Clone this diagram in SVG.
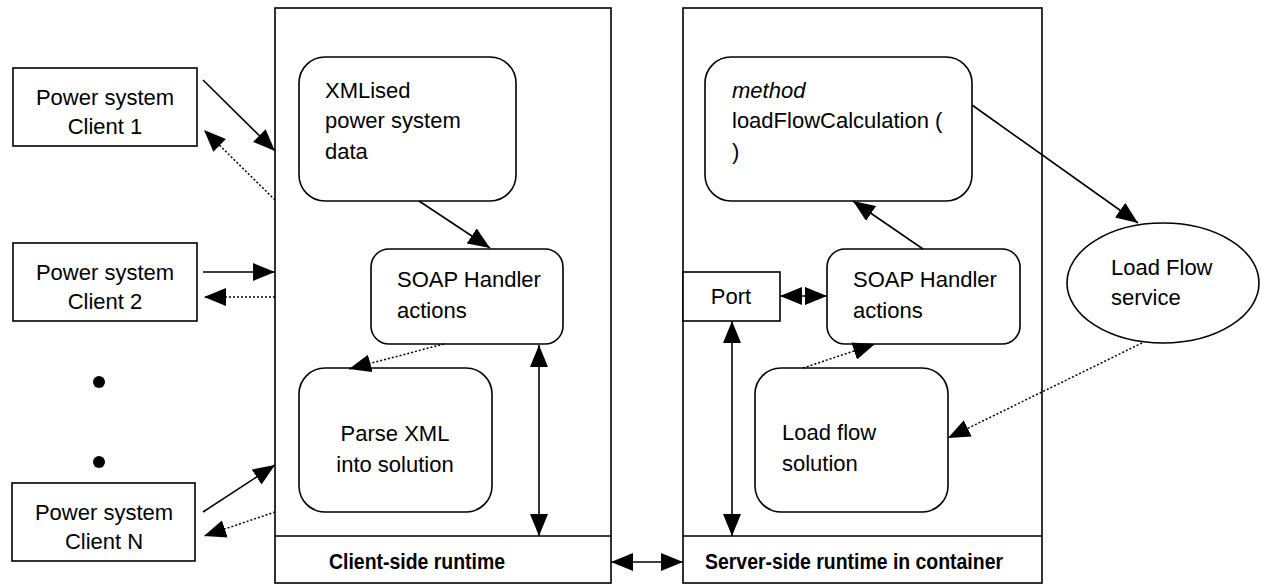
<svg xmlns="http://www.w3.org/2000/svg" width="1261" height="584" viewBox="0 0 1261 584">
  <style>
    .box { fill: #fff; stroke: #000; stroke-width: 1.6; }
    .t { font-family: "Liberation Sans", Arial, sans-serif; font-size: 22px; fill: #000; }
    .c { text-anchor: middle; }
    .b { font-weight: bold; font-size: 22px; }
    .i { font-style: italic; }
    .solid { fill: none; stroke: #000; stroke-width: 1.6; }
    .dot { fill: none; stroke: #000; stroke-width: 1.5; stroke-dasharray: 2 2; }
  </style>
  <defs>
    <marker id="head" viewBox="0 0 22 18" markerUnits="userSpaceOnUse" markerWidth="22" markerHeight="18" refX="22" refY="9" orient="auto-start-reverse">
      <path d="M0,0 L22,9 L0,18 z" fill="#000"/>
    </marker>
  </defs>

  <rect width="1261" height="584" fill="#fff"/>

  <!-- client-side container -->
  <g id="client-runtime">
    <rect class="box" x="275" y="8" width="336" height="575"/>
    <line class="solid" x1="275" y1="536" x2="611" y2="536"/>
    <text class="t b" x="329" y="569" textLength="176" lengthAdjust="spacingAndGlyphs">Client-side runtime</text>
  </g>

  <!-- server-side container -->
  <g id="server-runtime">
    <rect class="box" x="683" y="8" width="359" height="575"/>
    <line class="solid" x1="683" y1="536" x2="1042" y2="536"/>
    <text class="t b" x="705" y="569" textLength="298" lengthAdjust="spacingAndGlyphs">Server-side runtime in container</text>
  </g>

  <!-- clients -->
  <g id="client1">
    <rect class="box" x="13" y="68" width="184" height="78"/>
    <text class="t c" x="105" y="105">Power system</text>
    <text class="t c" x="105" y="134">Client 1</text>
  </g>
  <g id="client2">
    <rect class="box" x="13" y="243" width="184" height="78"/>
    <text class="t c" x="105" y="280">Power system</text>
    <text class="t c" x="105" y="309">Client 2</text>
  </g>
  <g id="ellipsis">
    <circle cx="99" cy="382" r="6" fill="#000"/>
    <circle cx="99" cy="462" r="6" fill="#000"/>
  </g>
  <g id="clientN">
    <rect class="box" x="12" y="483" width="183" height="78"/>
    <text class="t c" x="104" y="520">Power system</text>
    <text class="t c" x="104" y="549">Client N</text>
  </g>

  <!-- client-side nodes -->
  <g id="xml-data">
    <rect class="box" x="299" y="57" width="217" height="144" rx="26"/>
    <text class="t" x="325" y="98">XMLised</text>
    <text class="t" x="325" y="128">power system</text>
    <text class="t" x="325" y="159">data</text>
  </g>
  <g id="soap-client">
    <rect class="box" x="371" y="249" width="192" height="95" rx="18"/>
    <text class="t" x="397" y="287">SOAP Handler</text>
    <text class="t" x="397" y="318">actions</text>
  </g>
  <g id="parse-xml">
    <rect class="box" x="299" y="368" width="193" height="144" rx="26"/>
    <text class="t c" x="395" y="441">Parse XML</text>
    <text class="t c" x="395" y="472">into solution</text>
  </g>

  <!-- server-side nodes -->
  <g id="method">
    <rect class="box" x="705" y="57" width="267" height="144" rx="26"/>
    <text class="t i" x="732" y="98">method</text>
    <text class="t" x="732" y="128">loadFlowCalculation (</text>
    <text class="t" x="732" y="159">)</text>
  </g>
  <g id="port">
    <rect class="box" x="683" y="272" width="97" height="49"/>
    <text class="t c" x="731" y="304">Port</text>
  </g>
  <g id="soap-server">
    <rect class="box" x="827" y="249" width="193" height="95" rx="18"/>
    <text class="t" x="853" y="287">SOAP Handler</text>
    <text class="t" x="853" y="318">actions</text>
  </g>
  <g id="lf-solution">
    <rect class="box" x="755" y="368" width="193" height="144" rx="26"/>
    <text class="t" x="782" y="440">Load flow</text>
    <text class="t" x="782" y="471">solution</text>
  </g>
  <g id="lf-service">
    <ellipse class="box" cx="1163" cy="283" rx="96" ry="60"/>
    <text class="t" x="1111" y="275">Load Flow</text>
    <text class="t" x="1111" y="305">service</text>
  </g>

  <!-- connectors -->
  <g id="connectors">
    <line class="solid" x1="203" y1="80" x2="275" y2="151" marker-end="url(#head)"/>
    <line class="dot" x1="275" y1="200" x2="204" y2="130" marker-end="url(#head)"/>
    <line class="solid" x1="203" y1="272" x2="275" y2="272" marker-end="url(#head)"/>
    <line class="dot" x1="275" y1="297" x2="204" y2="297" marker-end="url(#head)"/>
    <line class="solid" x1="203" y1="512" x2="275" y2="465" marker-end="url(#head)"/>
    <line class="dot" x1="275" y1="512" x2="204" y2="536" marker-end="url(#head)"/>

    <line class="solid" x1="419" y1="201" x2="490" y2="248" marker-end="url(#head)"/>
    <line class="dot" x1="444" y1="344" x2="349" y2="369" marker-end="url(#head)"/>
    <line class="solid" x1="539" y1="345" x2="539" y2="536" marker-start="url(#head)" marker-end="url(#head)"/>

    <line class="solid" x1="611" y1="562" x2="683" y2="562" marker-start="url(#head)" marker-end="url(#head)"/>

    <line class="solid" x1="780" y1="296" x2="827" y2="296" marker-start="url(#head)" marker-end="url(#head)"/>
    <line class="solid" x1="732" y1="321" x2="732" y2="536" marker-start="url(#head)" marker-end="url(#head)"/>
    <line class="solid" x1="923" y1="249" x2="853" y2="201" marker-end="url(#head)"/>
    <line class="solid" x1="972" y1="105" x2="1138" y2="223" marker-end="url(#head)"/>
    <line class="dot" x1="1142" y1="343" x2="948" y2="438" marker-end="url(#head)"/>
    <line class="dot" x1="803" y1="368" x2="875" y2="344" marker-end="url(#head)"/>
  </g>
</svg>
